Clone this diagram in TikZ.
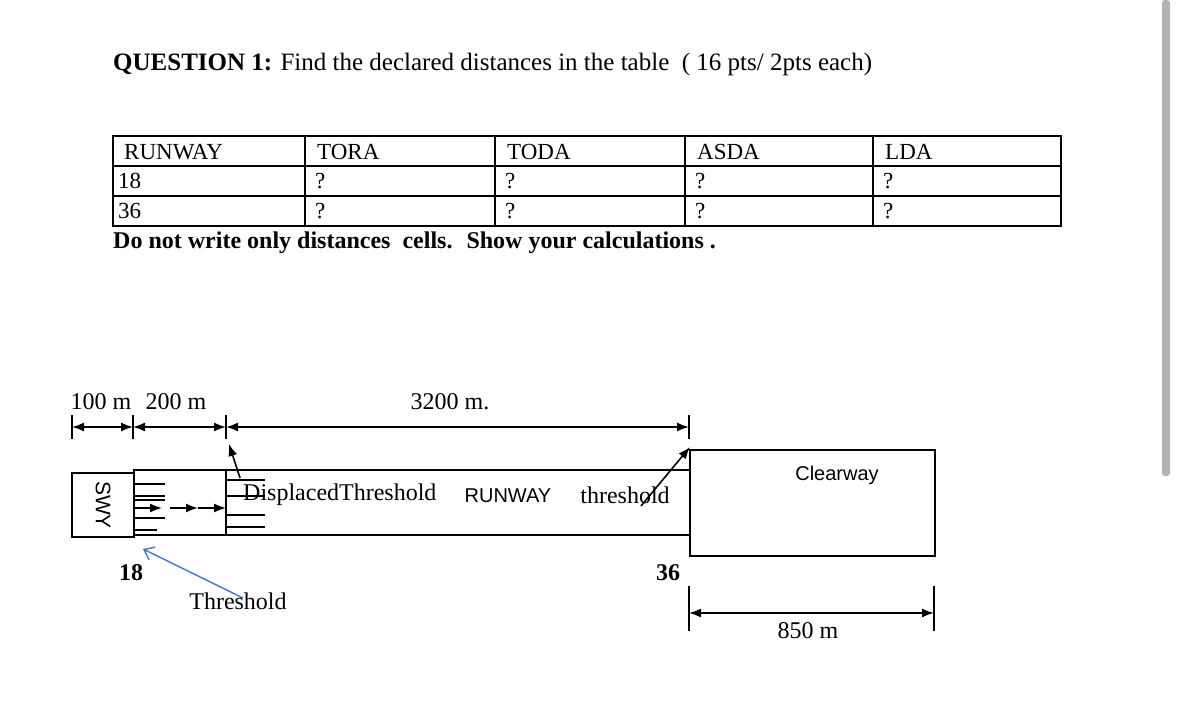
\documentclass[tikz,border=0pt]{standalone}
\usepackage{fontspec}
\setmainfont{Liberation Serif}
\newfontfamily\sansf{Liberation Sans}
\usetikzlibrary{arrows.meta}
\begin{document}
\begin{tikzpicture}[x=1pt,y=-1pt,
  ln/.style={line width=1.4pt},
  dim/.style={line width=1.6pt,{Latex[length=12pt,width=9pt]}-{Latex[length=12pt,width=9pt]}},
  ar/.style={line width=1.6pt,-{Latex[length=12pt,width=9pt]}},
  txt/.style={font=\fontsize{24}{28}\selectfont,inner sep=0pt},
  cell/.style={font=\fontsize{23}{26}\selectfont,inner sep=0pt,anchor=west}]
\useasboundingbox[fill=white] (0,0) rectangle (1179,703);
\fill[gray!60,rounded corners=3pt] (1162,0) rectangle (1170,476);
\node[txt,anchor=west,font=\fontsize{25}{28}\selectfont] (title) at (113,64) {\textbf{QUESTION 1:} Find the declared distances in the table \ ( 16 pts/ 2pts each)};
% table
\draw[ln] (113,136) rectangle (1061,226);
\foreach \y in {166,196} \draw[ln] (113,\y) -- (1061,\y);
\foreach \x in {305,495,685,873} \draw[ln] (\x,136) -- (\x,226);
\node[cell] (h1) at (124,152) {RUNWAY};
\node[cell] (h2) at (317,152) {TORA};
\node[cell] (h3) at (507,152) {TODA};
\node[cell] (h4) at (697,152) {ASDA};
\node[cell] (h5) at (885,152) {LDA};
\node[cell] (r1) at (118,181) {18};
\node[cell] (r2) at (118,211) {36};
\foreach \x/\n in {315/a,505/b,695/c,883/d}{
  \node[cell] (q1\n) at (\x,181) {?};
  \node[cell] (q2\n) at (\x,211) {?};}
\node[txt,anchor=west] (note) at (113,243) {\textbf{Do not write only distances \ cells. \ Show your calculations .}};
% dimension labels
\node[txt] (d100) at (101,402) {100 m};
\node[txt] (d200) at (176,402) {200 m};
\node[txt] (d3200) at (450,402) {3200 m.};
\coordinate (t1) at (72,427); \coordinate (t2) at (133,427);
\coordinate (t3) at (226,427); \coordinate (t4) at (689,427);
\foreach \x in {72,133,226,689} \draw[ln] (\x,415) -- (\x,439);
\draw[dim] (t1) -- (t2);
\draw[dim] (t2) -- (t3);
\draw[dim] (t3) -- (t4);
% SWY and runway
\draw[ln] (72,473) rectangle (134,537);
\node[txt,rotate=-90,font=\sansf\fontsize{21}{24}\selectfont] (swy) at (103,505) {SWY};
\draw[ln] (134,470) rectangle (690,535);
\draw[ln] (226,470) -- (226,535);
\foreach \y in {484,496,500,518} \draw[ln] (135,\y) -- (165,\y);
\draw[ln] (135,530) -- (157,530);
\coordinate (a1) at (135,508); \coordinate (a2) at (162,508);
\coordinate (a3) at (170,508); \coordinate (a4) at (198,508); \coordinate (a5) at (226,508);
\draw[ar] (a1) -- (a2);
\draw[ar] (a3) -- (a4);
\draw[ar] (a4) -- (a5);
\foreach \y in {480,496,515,527} \draw[ln] (226,\y) -- (265,\y);
\coordinate (dt1) at (240,478); \coordinate (dt2) at (229,444);
\draw[ar] (dt1) -- (dt2);
\node[txt,anchor=west] (disp) at (243,495) {DisplacedThreshold};
\node[txt,font=\sansf\fontsize{20}{24}\selectfont] (rwy) at (508,496) {RUNWAY};
\node[txt] (thr) at (625,495) {threshold};
\coordinate (th1) at (641,506); \coordinate (th2) at (690,447);
\draw[ar] (th1) -- (th2);
% clearway
\draw[ln] (690,450) rectangle (935,556);
\node[txt,font=\sansf\fontsize{20}{24}\selectfont] (cw) at (837,475) {Clearway};
% 18 / threshold
\node[txt,font=\bfseries\fontsize{24}{28}\selectfont] (n18) at (131,573) {18};
\node[txt] (thl) at (238,601) {Threshold};
\coordinate (b1) at (243,598); \coordinate (b2) at (143,549);
\draw[line width=1.4pt,color={rgb,255:red,70;green,120;blue,190},-{Straight Barb[length=9pt,width=14pt]}] (b1) -- (b2);
\node[txt,font=\bfseries\fontsize{24}{28}\selectfont] (n36) at (668,573) {36};
% 850
\foreach \x in {689,934} \draw[ln] (\x,586) -- (\x,631);
\coordinate (c1) at (689,613); \coordinate (c2) at (934,613);
\draw[dim] (c1) -- (c2);
\node[txt] (d850) at (808,631) {850 m};
\end{tikzpicture}
\end{document}
